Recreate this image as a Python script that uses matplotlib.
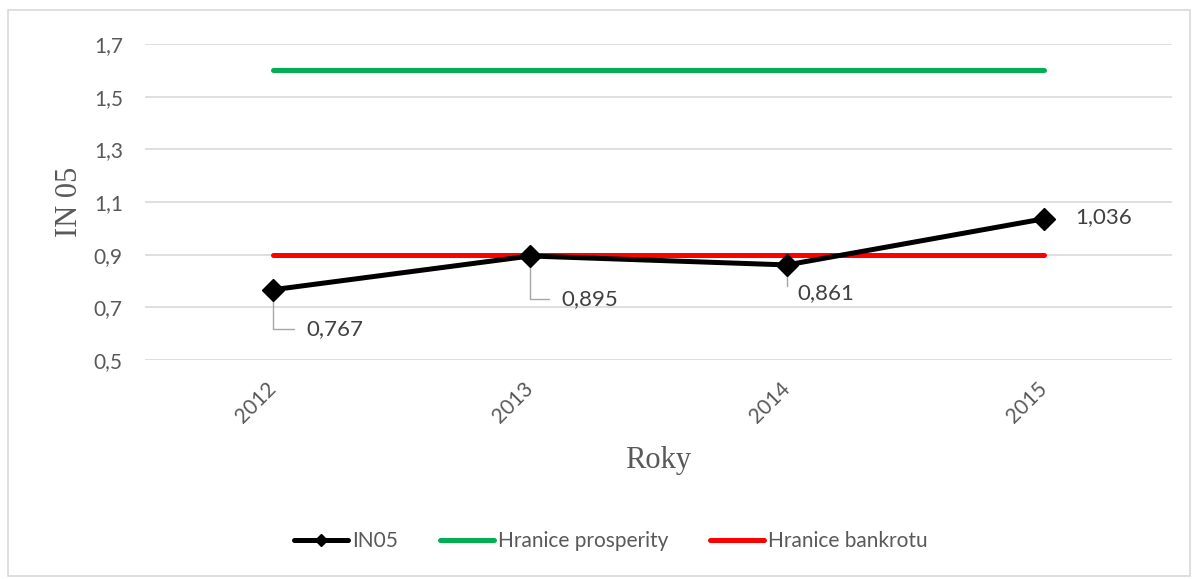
import matplotlib
matplotlib.use("Agg")
import matplotlib.pyplot as plt
from matplotlib.patches import Rectangle

years = ["2012", "2013", "2014", "2015"]
in05 = [0.767, 0.895, 0.861, 1.036]
prosperity = [1.6, 1.6, 1.6, 1.6]
bankrot = [0.9, 0.9, 0.9, 0.9]
label_txt = ["0,767", "0,895", "0,861", "1,036"]
yticks = [0.5, 0.7, 0.9, 1.1, 1.3, 1.5, 1.7]

plt.rcParams['font.family'] = ['Lato', 'DejaVu Sans']
gray = "#595959"

fig = plt.figure(figsize=(11.99, 5.79), dpi=100)
fig.patches.append(Rectangle((8 / 1199, 3 / 579), 1182 / 1199, 566 / 579,
                             transform=fig.transFigure, fill=False,
                             edgecolor="#D9D9D9", linewidth=1.2))
ax = fig.add_axes([145 / 1199, 1 - 360 / 579, 1027 / 1199, 316 / 579])

x = list(range(len(years)))
ax.plot(x, in05, color="black", lw=3.6, marker="D", markersize=11,
        solid_capstyle="round", label="IN05", zorder=4)
ax.plot(x, prosperity, color="#00B050", lw=3.6, solid_capstyle="round",
        label="Hranice prosperity", zorder=3)
ax.plot(x, bankrot, color="#FF0000", lw=3.6, solid_capstyle="round",
        label="Hranice bankrotu", zorder=3)

# data labels (offsets in pixels)
offsets = [(33, -39), (31, -43), (10, -28), (32, 2)]
for i, (v, t, off) in enumerate(zip(in05, label_txt, offsets)):
    if i < 3:
        ax.annotate(t, xy=(i, v), xytext=off, textcoords="offset pixels",
                    ha="left", va="center", fontsize=16, color="#404040",
                    arrowprops=dict(arrowstyle="-", color="#A6A6A6", lw=1,
                                    shrinkA=7, shrinkB=2,
                                    connectionstyle="angle,angleA=0,angleB=90,rad=0"))
    else:
        ax.annotate(t, xy=(i, v), xytext=off, textcoords="offset pixels",
                    ha="left", va="center", fontsize=16, color="#404040")

ax.set_xlim(-0.5, 3.5)
ax.set_ylim(0.5, 1.7)
ax.set_yticks(yticks)
ax.set_yticklabels([f"{t:.1f}".replace(".", ",") for t in yticks])
ax.set_xticks(x)
ax.set_xticklabels(years, rotation=45, ha="right", va="center",
                   rotation_mode="anchor")
ax.tick_params(axis="both", length=0, labelsize=15, labelcolor=gray)
ax.tick_params(axis="y", pad=16)
ax.tick_params(axis="x", pad=18)
ax.grid(axis="y", color="#D9D9D9", lw=1.2)
ax.set_axisbelow(True)
for s in ax.spines.values():
    s.set_visible(False)

ax.set_ylabel("IN 05", family="Liberation Serif", fontsize=22, color=gray, labelpad=7)
ax.set_xlabel("Roky", family="Liberation Serif", fontsize=22, color=gray, labelpad=14)

fig.legend(loc="center", bbox_to_anchor=(611 / 1199, 1 - 541 / 579), ncol=3,
           frameon=False, fontsize=15, labelcolor=gray, handlelength=2.6,
           handletextpad=0.2, columnspacing=2.0, markerscale=0.6)

fig.savefig("out.png", dpi=100)
